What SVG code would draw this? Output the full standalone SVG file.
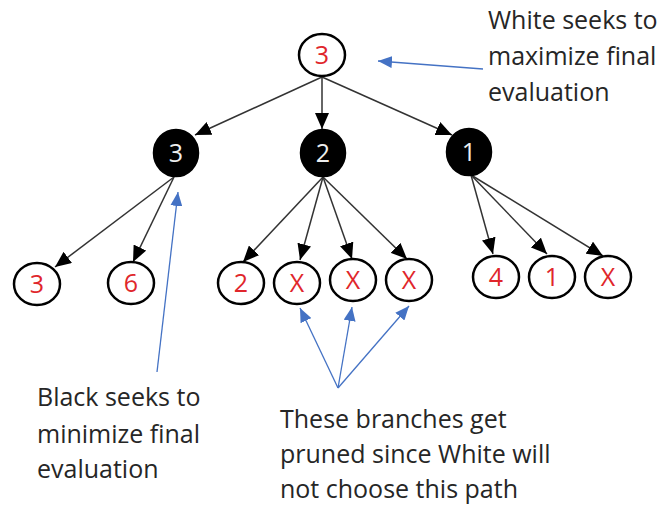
<svg xmlns="http://www.w3.org/2000/svg" width="668" height="506" viewBox="0 0 668 506">
<defs>
<marker id="ah" markerUnits="userSpaceOnUse" markerWidth="16" markerHeight="14" viewBox="0 0 16 14" refX="16" refY="7" orient="auto"><path d="M0,0 L16,7 L0,14 Z" fill="#000"/></marker>
<marker id="bh" markerUnits="userSpaceOnUse" markerWidth="14" markerHeight="12" viewBox="0 0 14 12" refX="14" refY="6" orient="auto"><path d="M0,0 L14,6 L0,12 Z" fill="#4472C4"/></marker>
</defs>
<style>
.w{fill:#fff;stroke:#000;stroke-width:2.5}
.b{fill:#000;stroke:#000;stroke-width:2.5}
.wt{fill:#e0262b;font-family:"Open Sans",sans-serif;font-size:25px;text-anchor:middle}
.bt{fill:#eee;font-family:"Open Sans",sans-serif;font-size:25px;text-anchor:middle}
.c{stroke:#333;stroke-width:1.5;fill:none;marker-end:url(#ah)}
.bl{stroke:#4472C4;stroke-width:1.3;fill:none;marker-end:url(#bh)}
.lab{fill:#262626;font-family:"Open Sans",sans-serif;font-size:25px}
</style>
<g id="connectors">
<line class="c" x1="322" y1="77" x2="195" y2="135"/>
<line class="c" x1="322" y1="77" x2="322" y2="129"/>
<line class="c" x1="322" y1="77" x2="452" y2="135"/>
<line class="c" x1="174" y1="177" x2="55" y2="267"/>
<line class="c" x1="174" y1="177" x2="133" y2="262"/>
<line class="c" x1="323" y1="177" x2="243" y2="262"/>
<line class="c" x1="323" y1="177" x2="300" y2="260"/>
<line class="c" x1="323" y1="177" x2="352" y2="259"/>
<line class="c" x1="323" y1="177" x2="407" y2="259"/>
<line class="c" x1="471" y1="175" x2="493" y2="254"/>
<line class="c" x1="471" y1="175" x2="547" y2="254"/>
<line class="c" x1="471" y1="175" x2="603" y2="256"/>
<line class="bl" x1="483" y1="69" x2="378" y2="61"/>
<line class="bl" x1="157" y1="372" x2="178" y2="192"/>
<line class="bl" x1="338" y1="388" x2="300" y2="308"/>
<line class="bl" x1="338" y1="388" x2="352" y2="307"/>
<line class="bl" x1="338" y1="388" x2="409" y2="306"/>
</g>
<g id="root"><ellipse class="w" cx="322" cy="55" rx="23" ry="21"/><text class="wt" x="322" y="64">3</text></g>
<g id="b3"><ellipse class="b" cx="176" cy="153" rx="22" ry="23"/><text class="bt" x="176" y="162">3</text></g>
<g id="b2"><ellipse class="b" cx="323" cy="153" rx="22" ry="23"/><text class="bt" x="323" y="162">2</text></g>
<g id="b1"><ellipse class="b" cx="469" cy="152" rx="22" ry="23"/><text class="bt" x="469" y="161">1</text></g>
<g id="l3"><ellipse class="w" cx="37" cy="284" rx="23" ry="21"/><text class="wt" x="37" y="293">3</text></g>
<g id="l6"><ellipse class="w" cx="131" cy="283" rx="23" ry="21"/><text class="wt" x="131" y="292">6</text></g>
<g id="l2"><ellipse class="w" cx="241" cy="283" rx="23" ry="21"/><text class="wt" x="241" y="292">2</text></g>
<g id="x1"><ellipse class="w" cx="297" cy="283" rx="23" ry="21"/><text class="wt" x="297" y="292">X</text></g>
<g id="x2"><ellipse class="w" cx="353" cy="280" rx="23" ry="21"/><text class="wt" x="353" y="289">X</text></g>
<g id="x3"><ellipse class="w" cx="409" cy="280" rx="23" ry="21"/><text class="wt" x="409" y="289">X</text></g>
<g id="l4"><ellipse class="w" cx="496" cy="277" rx="23" ry="21"/><text class="wt" x="496" y="286">4</text></g>
<g id="l1"><ellipse class="w" cx="552" cy="277" rx="23" ry="21"/><text class="wt" x="552" y="286">1</text></g>
<g id="x4"><ellipse class="w" cx="608" cy="277" rx="23" ry="21"/><text class="wt" x="608" y="286">X</text></g>
<g id="note-white"><text class="lab" x="488" y="29">White seeks to</text><text class="lab" x="488" y="65">maximize final</text><text class="lab" x="488" y="101">evaluation</text></g>
<g id="note-black"><text class="lab" x="37" y="406">Black seeks to</text><text class="lab" x="37" y="443">minimize final</text><text class="lab" x="37" y="478">evaluation</text></g>
<g id="note-pruned"><text class="lab" x="280" y="428">These branches get</text><text class="lab" x="280" y="463">pruned since White will</text><text class="lab" x="280" y="498">not choose this path</text></g>
</svg>
